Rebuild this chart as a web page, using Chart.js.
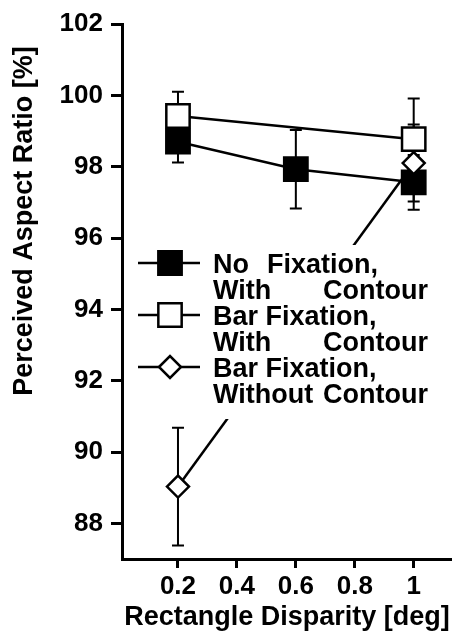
<!DOCTYPE html>
<html>
<head>
<meta charset="utf-8">
<script src="https://cdn.jsdelivr.net/npm/chart.js@4/dist/chart.umd.min.js"></script>
<style>
  body { margin: 0; background: #fff; }
  canvas { display: block; }
</style>
</head>
<body>
<canvas id="aspectChart" width="452" height="640"></canvas>
<script>
// values
const disparity = [0.2, 0.6, 1];
const noFixation = [98.7, 97.93, 97.56];
const noFixationErr = [0.58, 1.1, 0.77];

const barFixDisparity = [0.2, 1];
const barFixation = [99.42, 98.77];
const barFixationErr = [0.68, 1.14];

const noContourDisparity = [0.2, 1];
const noContour = [89.03, 98.1];
const noContourErr = [1.65, 1.08];

const xTicks = [0.2, 0.4, 0.6, 0.8, 1];
const yTicks = [88, 90, 92, 94, 96, 98, 100, 102];

const legendText = [
  ['No\tFixation,', 'With\tContour'],
  ['Bar Fixation,', 'With\tContour'],
  ['Bar Fixation,', 'Without\tContour']
];

const FONT = 'Liberation Sans, Arial, sans-serif';

function toPoints(xs, ys) {
  return xs.map((x, i) => ({ x: x, y: ys[i] }));
}

// draws a point marker the way the datasets look
function drawMarker(ctx, ds, x, y) {
  const r = ds.pointRadius;
  ctx.save();
  ctx.lineWidth = ds.pointBorderWidth;
  ctx.strokeStyle = '#000';
  ctx.fillStyle = ds.pointBackgroundColor;
  ctx.beginPath();
  if (ds.pointStyle === 'rectRot') {
    ctx.moveTo(x - r, y);
    ctx.lineTo(x, y - r);
    ctx.lineTo(x + r, y);
    ctx.lineTo(x, y + r);
    ctx.closePath();
  } else {
    const s = r * Math.SQRT1_2;
    ctx.rect(x - s, y - s, 2 * s, 2 * s);
  }
  ctx.fill();
  ctx.stroke();
  ctx.restore();
}

const errorBars = {
  id: 'errorBars',
  beforeDatasetsDraw(chart) {
    const ctx = chart.ctx;
    const xs = chart.scales.x, ys = chart.scales.y;
    ctx.save();
    ctx.strokeStyle = '#000';
    ctx.lineWidth = 2;
    chart.data.datasets.forEach(ds => {
      ds.data.forEach((p, i) => {
        const e = ds.errors[i];
        const px = xs.getPixelForValue(p.x);
        const top = ys.getPixelForValue(p.y + e);
        const bot = ys.getPixelForValue(p.y - e);
        ctx.beginPath();
        ctx.moveTo(px, top); ctx.lineTo(px, bot);
        ctx.moveTo(px - 6, top); ctx.lineTo(px + 6, top);
        ctx.moveTo(px - 6, bot); ctx.lineTo(px + 6, bot);
        ctx.stroke();
      });
    });
    ctx.restore();
  }
};

const legendBox = {
  id: 'legendBox',
  afterDatasetsDraw(chart) {
    const ctx = chart.ctx;
    const area = chart.chartArea;
    const left = area.left, top = area.top;
    ctx.save();
    // white panel hides the line passing behind the legend
    ctx.fillStyle = '#fff';
    ctx.fillRect(left + 10, top + 221, area.right - left - 10, 174);

    ctx.font = 'bold 27px ' + FONT;
    ctx.fillStyle = '#000';
    ctx.textBaseline = 'alphabetic';
    const order = [2, 0, 1]; // legend rows -> dataset index
    order.forEach((di, row) => {
      const ds = chart.data.datasets[di];
      const base = top + 249 + row * 52;
      const midY = base - 10;
      ctx.strokeStyle = '#000';
      ctx.lineWidth = 2.5;
      ctx.beginPath();
      ctx.moveTo(left + 16, midY);
      ctx.lineTo(left + 78, midY);
      ctx.stroke();
      drawMarker(ctx, ds, left + 48, midY);

      legendText[row].forEach((line, li) => {
        const y = base + li * 26;
        const parts = line.split('\t');
        ctx.fillText(parts[0], left + 91, y);
        if (parts.length > 1) {
          const tab = li === 0 ? 54 : 110;
          ctx.fillText(parts[1], left + 91 + tab, y);
        }
      });
    });
    ctx.restore();
  },
  afterDraw(chart) {
    const ctx = chart.ctx;
    ctx.save();
    ctx.font = 'bold 27px ' + FONT;
    ctx.fillStyle = '#000';
    ctx.textAlign = 'center';
    ctx.textBaseline = 'middle';
    ctx.translate(25, chart.chartArea.top + 197);
    ctx.rotate(-Math.PI / 2);
    ctx.fillText('Perceived Aspect Ratio [%]', 0, 0);
    ctx.restore();
  }
};

const ctx = document.getElementById('aspectChart').getContext('2d');

const axisCommon = {
  border: { display: true, color: '#000', width: 3 },
  grid: {
    display: true,
    drawOnChartArea: false,
    drawTicks: true,
    tickColor: '#000',
    tickWidth: 3
  }
};

new Chart(ctx, {
  type: 'line',
  data: {
    datasets: [
      {
        label: 'Bar Fixation, With Contour',
        data: toPoints(barFixDisparity, barFixation),
        errors: barFixationErr,
        order: 0,
        borderColor: '#000',
        borderWidth: 2.5,
        pointStyle: 'rect',
        pointRadius: 16.5,
        pointBorderWidth: 2.5,
        pointBorderColor: '#000',
        pointBackgroundColor: '#fff'
      },
      {
        label: 'Bar Fixation, Without Contour',
        data: toPoints(noContourDisparity, noContour),
        errors: noContourErr,
        order: 1,
        borderColor: '#000',
        borderWidth: 2.5,
        pointStyle: 'rectRot',
        pointRadius: 11,
        pointBorderWidth: 2.5,
        pointBorderColor: '#000',
        pointBackgroundColor: '#fff'
      },
      {
        label: 'No Fixation, With Contour',
        data: toPoints(disparity, noFixation),
        errors: noFixationErr,
        order: 2,
        borderColor: '#000',
        borderWidth: 2.5,
        pointStyle: 'rect',
        pointRadius: 16.5,
        pointBorderWidth: 2.5,
        pointBorderColor: '#000',
        pointBackgroundColor: '#000'
      }
    ]
  },
  options: {
    responsive: false,
    animation: false,
    devicePixelRatio: 1,
    clip: false,
    layout: { autoPadding: false, padding: { top: 24, right: 0, left: 0, bottom: 0 } },
    plugins: {
      legend: { display: false },
      tooltip: { enabled: false }
    },
    scales: {
      x: {
        ...axisCommon,
        type: 'linear',
        min: 0.01,
        max: 1.13,
        grid: { ...axisCommon.grid, tickLength: 9 },
        afterBuildTicks: scale => { scale.ticks = xTicks.map(v => ({ value: v })); },
        afterFit: scale => { scale.height = 81; },
        ticks: {
          color: '#000',
          padding: 3,
          maxRotation: 0,
          font: { family: FONT, size: 26, weight: 'bold' },
          callback: v => String(v)
        },
        title: {
          display: true,
          text: 'Rectangle Disparity [deg]',
          color: '#000',
          padding: { top: 0, bottom: 6 },
          font: { family: FONT, size: 27, weight: 'bold' }
        }
      },
      y: {
        ...axisCommon,
        min: 87,
        max: 102,
        grid: { ...axisCommon.grid, tickLength: 11 },
        afterBuildTicks: scale => { scale.ticks = yTicks.map(v => ({ value: v })); },
        afterFit: scale => { scale.width = 122; },
        ticks: {
          color: '#000',
          padding: 8,
          font: { family: FONT, size: 26, weight: 'bold' }
        }
      }
    }
  },
  plugins: [errorBars, legendBox]
});
</script>
</body>
</html>
